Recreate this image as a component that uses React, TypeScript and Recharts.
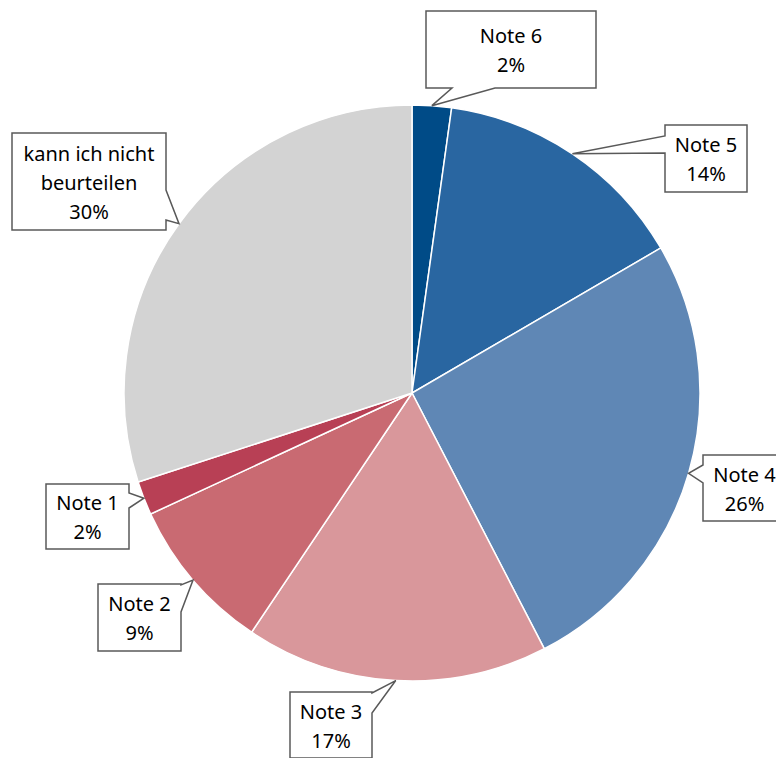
import { Cell, Pie, PieChart } from "recharts"

// ratings, clockwise from 12 o'clock
const categories = ["Note 6", "Note 5", "Note 4", "Note 3", "Note 2", "Note 1", "kann ich nicht beurteilen"]
const shares = [2.2, 14.4, 25.8, 17.0, 8.7, 1.9, 30.0]
const colors = ["#004b87", "#2966a1", "#5f87b5", "#d9979b", "#c96a72", "#b84055", "#d3d3d3"]

const data = categories.map((name, i) => ({ name, value: shares[i] }))

// callout boxes: rect + which side the pointer leaves from, and its base span on that side
const callouts = [
  { x: 426, y: 11, w: 170, h: 77, side: "bottom", a: 452, b: 495 },
  { x: 665, y: 125, w: 82, h: 67, side: "left", a: 136, b: 153 },
  { x: 703, y: 455, w: 83, h: 66, side: "left", a: 465, b: 483 },
  { x: 290, y: 692, w: 82, h: 66, side: "right", a: 693, b: 713 },
  { x: 98, y: 584, w: 83, h: 67, side: "right", a: 585, b: 612 },
  { x: 46, y: 484, w: 83, h: 65, side: "right", a: 493, b: 508 },
  { x: 12, y: 133, w: 154, h: 97, side: "right", a: 190, b: 220 },
]

const RADIAN = Math.PI / 180

function wrap(text: string, max: number) {
  const out: string[] = []
  let cur = ""
  for (const w of text.split(" ")) {
    const next = cur ? cur + " " + w : w
    if (next.length > max && cur) {
      out.push(cur)
      cur = w
    } else cur = next
  }
  if (cur) out.push(cur)
  return out
}

function calloutPath(c: any, tx: number, ty: number) {
  const { x, y, w, h, side, a, b } = c
  let d = `M${x},${y}`
  if (side === "top") d += ` L${a},${y} L${tx},${ty} L${b},${y}`
  d += ` L${x + w},${y}`
  if (side === "right") d += ` L${x + w},${a} L${tx},${ty} L${x + w},${b}`
  d += ` L${x + w},${y + h}`
  if (side === "bottom") d += ` L${b},${y + h} L${tx},${ty} L${a},${y + h}`
  d += ` L${x},${y + h}`
  if (side === "left") d += ` L${x},${b} L${tx},${ty} L${x},${a}`
  return d + " Z"
}

const renderCallout = (props: any) => {
  const { cx, cy, midAngle, outerRadius, index, name, value } = props
  const c = callouts[index]
  const tx = cx + outerRadius * Math.cos(-midAngle * RADIAN)
  const ty = cy + outerRadius * Math.sin(-midAngle * RADIAN)
  const lines = [...wrap(name, 14), `${Math.round(value)}%`]
  const lh = 29
  const mx = c.x + c.w / 2
  const my = c.y + c.h / 2 - ((lines.length - 1) * lh) / 2
  return (
    <g key={`callout-${index}`}>
      <path d={calloutPath(c, tx, ty)} fill="#ffffff" stroke="#595959" strokeWidth={1.5} strokeLinejoin="miter" />
      <text x={mx} y={my} textAnchor="middle" dominantBaseline="central" fill="#000000" fontSize={20} fontFamily="'Noto Sans', sans-serif">
        {lines.map((l, i) => (
          <tspan key={i} x={mx} dy={i === 0 ? 0 : lh}>
            {l}
          </tspan>
        ))}
      </text>
    </g>
  )
}

export default function App() {
  return (
    <div style={{ position: "absolute", left: 0, top: 0, width: 776, height: 758, background: "#ffffff", overflow: "hidden" }}>
      <PieChart width={776} height={758} margin={{ top: 0, right: 0, bottom: 0, left: 0 }}>
        <Pie
          data={data}
          dataKey="value"
          nameKey="name"
          cx={412}
          cy={393}
          outerRadius={288}
          startAngle={90}
          endAngle={-270}
          stroke="#ffffff"
          strokeWidth={1.5}
          label={renderCallout}
          labelLine={false}
          isAnimationActive={false}
        >
          {data.map((d, i) => (
            <Cell key={d.name} fill={colors[i]} />
          ))}
        </Pie>
      </PieChart>
    </div>
  )
}
